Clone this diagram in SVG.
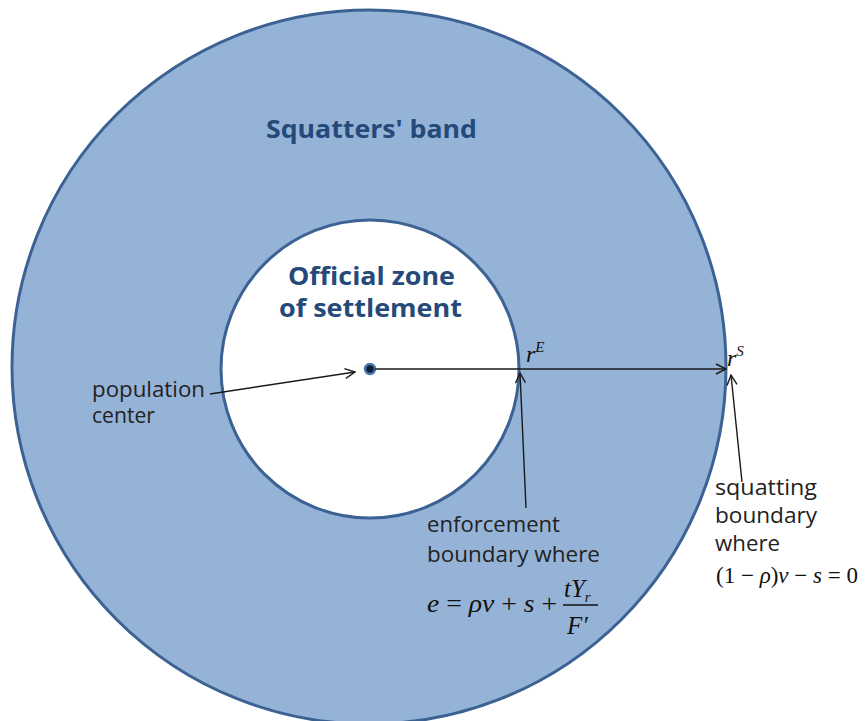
<svg xmlns="http://www.w3.org/2000/svg" width="866" height="721" viewBox="0 0 866 721">
<style>
.lbl{font-family:"Open Sans","Noto Sans",sans-serif;font-size:21px;fill:#222}
.ttl{font-family:"Open Sans","Noto Sans",sans-serif;font-size:25px;font-weight:bold;fill:#254a7a}
.math{font-family:"Liberation Serif",serif;font-size:25px;fill:#111}
.mi{font-style:italic}
.conn{stroke:#1a1a1a;stroke-width:1.4;fill:none;marker-end:url(#ah)}
</style>
<defs>
<marker id="ah" viewBox="0 0 12 12" refX="11" refY="6" markerWidth="12" markerHeight="12" markerUnits="userSpaceOnUse" orient="auto">
<path d="M1,1 L11,6 L1,11" fill="none" stroke="#1a1a1a" stroke-width="1.4"/>
</marker>
</defs>
<rect width="866" height="721" fill="#fff"/>
<g id="band">
<circle cx="369" cy="367" r="357" fill="#95b3d7" stroke="#3c6294" stroke-width="3"/>
<text class="ttl" x="266" y="138" textLength="211" lengthAdjust="spacingAndGlyphs">Squatters' band</text>
</g>
<g id="zone">
<circle cx="370" cy="369" r="149" fill="#fff" stroke="#3c6294" stroke-width="3"/>
<text class="ttl" x="288" y="285" textLength="167" lengthAdjust="spacingAndGlyphs">Official zone</text>
<text class="ttl" x="279" y="317" textLength="183" lengthAdjust="spacingAndGlyphs">of settlement</text>
</g>
<g id="center">
<circle cx="370" cy="369" r="5" fill="#10203a" stroke="#4a78b0" stroke-width="2.5"/>
</g>
<g id="connectors">
<line x1="375" y1="369" x2="726" y2="369" class="conn"/>
<line x1="210" y1="394" x2="355" y2="372" class="conn"/>
<line x1="526" y1="508" x2="520" y2="373" class="conn"/>
<line x1="742" y1="482" x2="731" y2="375" class="conn"/>
</g>
<g id="labels">
<text class="math mi" x="526" y="362" style="font-size:24px">r<tspan style="font-size:15px" dy="-10">E</tspan></text>
<text class="math mi" x="727" y="366" style="font-size:24px">r<tspan style="font-size:15px" dy="-10">S</tspan></text>
<text class="lbl" x="92" y="397" textLength="113" lengthAdjust="spacingAndGlyphs">population</text>
<text class="lbl" x="92" y="423" textLength="63" lengthAdjust="spacingAndGlyphs">center</text>
<text class="lbl" x="427" y="532" textLength="133" lengthAdjust="spacingAndGlyphs">enforcement</text>
<text class="lbl" x="427" y="562" textLength="173" lengthAdjust="spacingAndGlyphs">boundary where</text>
<text class="math" x="427" y="612" textLength="130" lengthAdjust="spacingAndGlyphs"><tspan class="mi">e</tspan> = <tspan class="mi">ρv</tspan> + <tspan class="mi">s</tspan> +</text>
<text class="math mi" x="564" y="597">tY<tspan style="font-size:15px" dy="5">r</tspan></text>
<line x1="563" y1="605" x2="598" y2="605" stroke="#111" stroke-width="1.3"/>
<text class="math mi" x="567" y="634">F′</text>
<text class="lbl" x="715" y="495" textLength="102" lengthAdjust="spacingAndGlyphs">squatting</text>
<text class="lbl" x="715" y="523" textLength="102" lengthAdjust="spacingAndGlyphs">boundary</text>
<text class="lbl" x="715" y="551" textLength="65" lengthAdjust="spacingAndGlyphs">where</text>
<text class="math" x="716" y="583" style="font-size:23px">(1 − <tspan class="mi">ρ</tspan>)<tspan class="mi">v</tspan> − <tspan class="mi">s</tspan> = 0</text>
</g>
</svg>
